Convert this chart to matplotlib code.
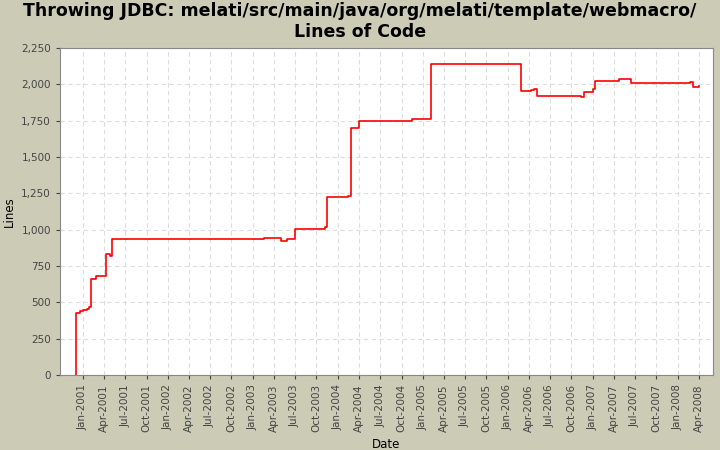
import matplotlib
matplotlib.use("Agg")
import matplotlib.pyplot as plt
import matplotlib.dates as mdates
import matplotlib.ticker as mticker
import pandas as pd

dates = ["2000-12-01","2000-12-03","2000-12-20","2001-01-01","2001-01-20","2001-01-28",
         "2001-02-05","2001-02-25","2001-04-10","2001-04-28","2001-05-05","2003-02-20",
         "2003-05-01","2003-05-28","2003-07-01","2003-11-05","2003-11-15","2004-02-15",
         "2004-02-25","2004-04-01","2004-11-15","2005-02-03","2006-02-25","2006-04-10",
         "2006-04-25","2006-05-05","2006-11-10","2006-11-25","2007-01-01","2007-01-10",
         "2007-04-25","2007-06-15","2008-02-25","2008-03-05","2008-04-01"]
lines = [0,424,440,447,456,466,663,681,830,816,934,943,923,937,1004,1018,1225,1230,
         1700,1750,1760,2140,1952,1960,1968,1917,1910,1948,1971,2020,2034,2011,2013,1980,1990]

x = pd.to_datetime(dates)
ticks = pd.date_range("2001-01-01", "2008-04-01", freq="3MS")
bg = "#cbcbb6"
fig = plt.figure(figsize=(7.2, 4.5), dpi=100, facecolor=bg)
ax = fig.add_axes([60/720, 1-375/450, 653/720, 327/450])
ax.plot(x, lines, color="red", drawstyle="steps-post", lw=1.2)
ax.set_xlim(pd.Timestamp("2000-09-24"), pd.Timestamp("2008-06-01"))
ax.set_ylim(0, 2250)
ax.yaxis.set_major_locator(mticker.MultipleLocator(250))
ax.yaxis.set_major_formatter(mticker.FuncFormatter(lambda v, p: f"{int(v):,}"))
ax.set_xticks(ticks)
ax.xaxis.set_major_formatter(mdates.DateFormatter("%b-%Y"))
plt.setp(ax.get_xticklabels(), rotation=90)
ax.tick_params(labelsize=7.5, colors="#444444", length=3)
ax.grid(True, color="#dddddd", linestyle=(0, (4, 3)), lw=0.8)
for s in ax.spines.values():
    s.set_color("#888888")
ax.set_xlabel("Date", fontsize=8.5)
ax.set_ylabel("Lines", fontsize=8.5)
fig.suptitle("Throwing JDBC: melati/src/main/java/org/melati/template/webmacro/\nLines of Code",
             fontsize=12.5, fontweight="bold", y=0.995)
fig.savefig("out.png", dpi=100, facecolor=bg)
